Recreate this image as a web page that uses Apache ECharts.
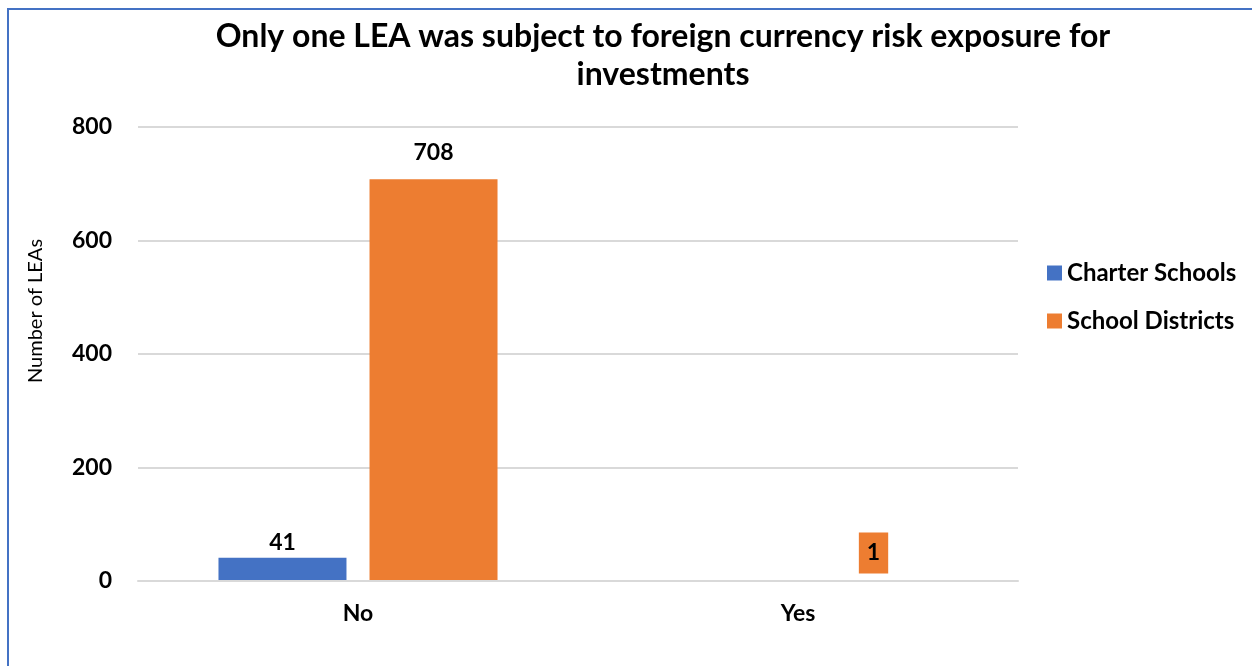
<!DOCTYPE html>
<html><head><meta charset="utf-8">
<script src="https://cdn.jsdelivr.net/npm/echarts@6/dist/echarts.min.js"></script>
<style>
html,body{margin:0;padding:0;background:#fff;overflow:hidden;}
#frame{position:absolute;left:7px;top:8px;width:1400px;height:800px;border-left:2px solid #4472c4;border-top:2px solid #4472c4;}
#c{position:absolute;left:0;top:0;width:1252px;height:666px;}
</style></head>
<body>
<div id="frame"></div>
<div id="c"></div>
<script>
const titleText = 'Only one LEA was subject to foreign currency risk exposure for\ninvestments';
const categories = ['No', 'Yes'];
const seriesNames = ['Charter Schools', 'School Districts'];
const charterValues = [41, 0];
const districtValues = [708, 1];
const yTicks = [0, 200, 400, 600, 800];
const yAxisName = 'Number of LEAs';

const FONT = 'Lato, "Open Sans", sans-serif';
const chart = echarts.init(document.getElementById('c'), null, {renderer: 'canvas'});
chart.setOption({
  animation: false,
  title: {
    text: titleText, left: 658, top: 13, textAlign: 'center',
    textStyle: {fontFamily: FONT, fontSize: 32, fontWeight: 'bold', color: '#000', lineHeight: 38}
  },
  legend: {
    orient: 'vertical', left: 1042, top: 256, itemGap: 24,
    itemWidth: 15, itemHeight: 15, icon: 'rect',
    textStyle: {fontFamily: FONT, fontSize: 24, fontWeight: 'bold', color: '#000'},
    data: seriesNames
  },
  grid: {left: 138, right: 234, top: 127, bottom: 85},
  xAxis: {
    type: 'category', data: categories, z: 5,
    axisLine: {lineStyle: {color: '#d9d9d9', width: 2}},
    axisTick: {show: false},
    axisLabel: {fontFamily: FONT, fontSize: 23, fontWeight: 'bold', color: '#000', margin: 21}
  },
  yAxis: {
    type: 'value', min: yTicks[0], max: yTicks[yTicks.length - 1], interval: 200,
    name: yAxisName, nameLocation: 'middle', nameGap: 92, nameRotate: 90,
    nameTextStyle: {fontFamily: FONT, fontSize: 20, color: '#000', padding: [0, 0, 0, 86]},
    axisLine: {show: false}, axisTick: {show: false},
    axisLabel: {fontFamily: FONT, fontSize: 23, fontWeight: 'bold', color: '#000', margin: 26},
    splitLine: {lineStyle: {color: '#d9d9d9', width: 2}}
  },
  series: [
    {
      name: seriesNames[0], type: 'bar', data: charterValues,
      barWidth: 128, barGap: '18%',
      itemStyle: {color: '#4472c4'},
      label: {show: true, position: 'top', distance: 4,
        formatter: p => p.value === 0 ? '' : String(p.value),
        fontFamily: FONT, fontSize: 23, fontWeight: 'bold', color: '#000'}
    },
    {
      name: seriesNames[1], type: 'bar', data: districtValues.map((v, i) => i === 1 ? {
        value: v,
        label: {backgroundColor: '#ed7d31', padding: [9, 8, 9, 8], distance: 7}
      } : v),
      barWidth: 128,
      itemStyle: {color: '#ed7d31'},
      label: {show: true, position: 'top', distance: 15,
        fontFamily: FONT, fontSize: 23, fontWeight: 'bold', color: '#000'}
    }
  ]
});
</script>
</body></html>
